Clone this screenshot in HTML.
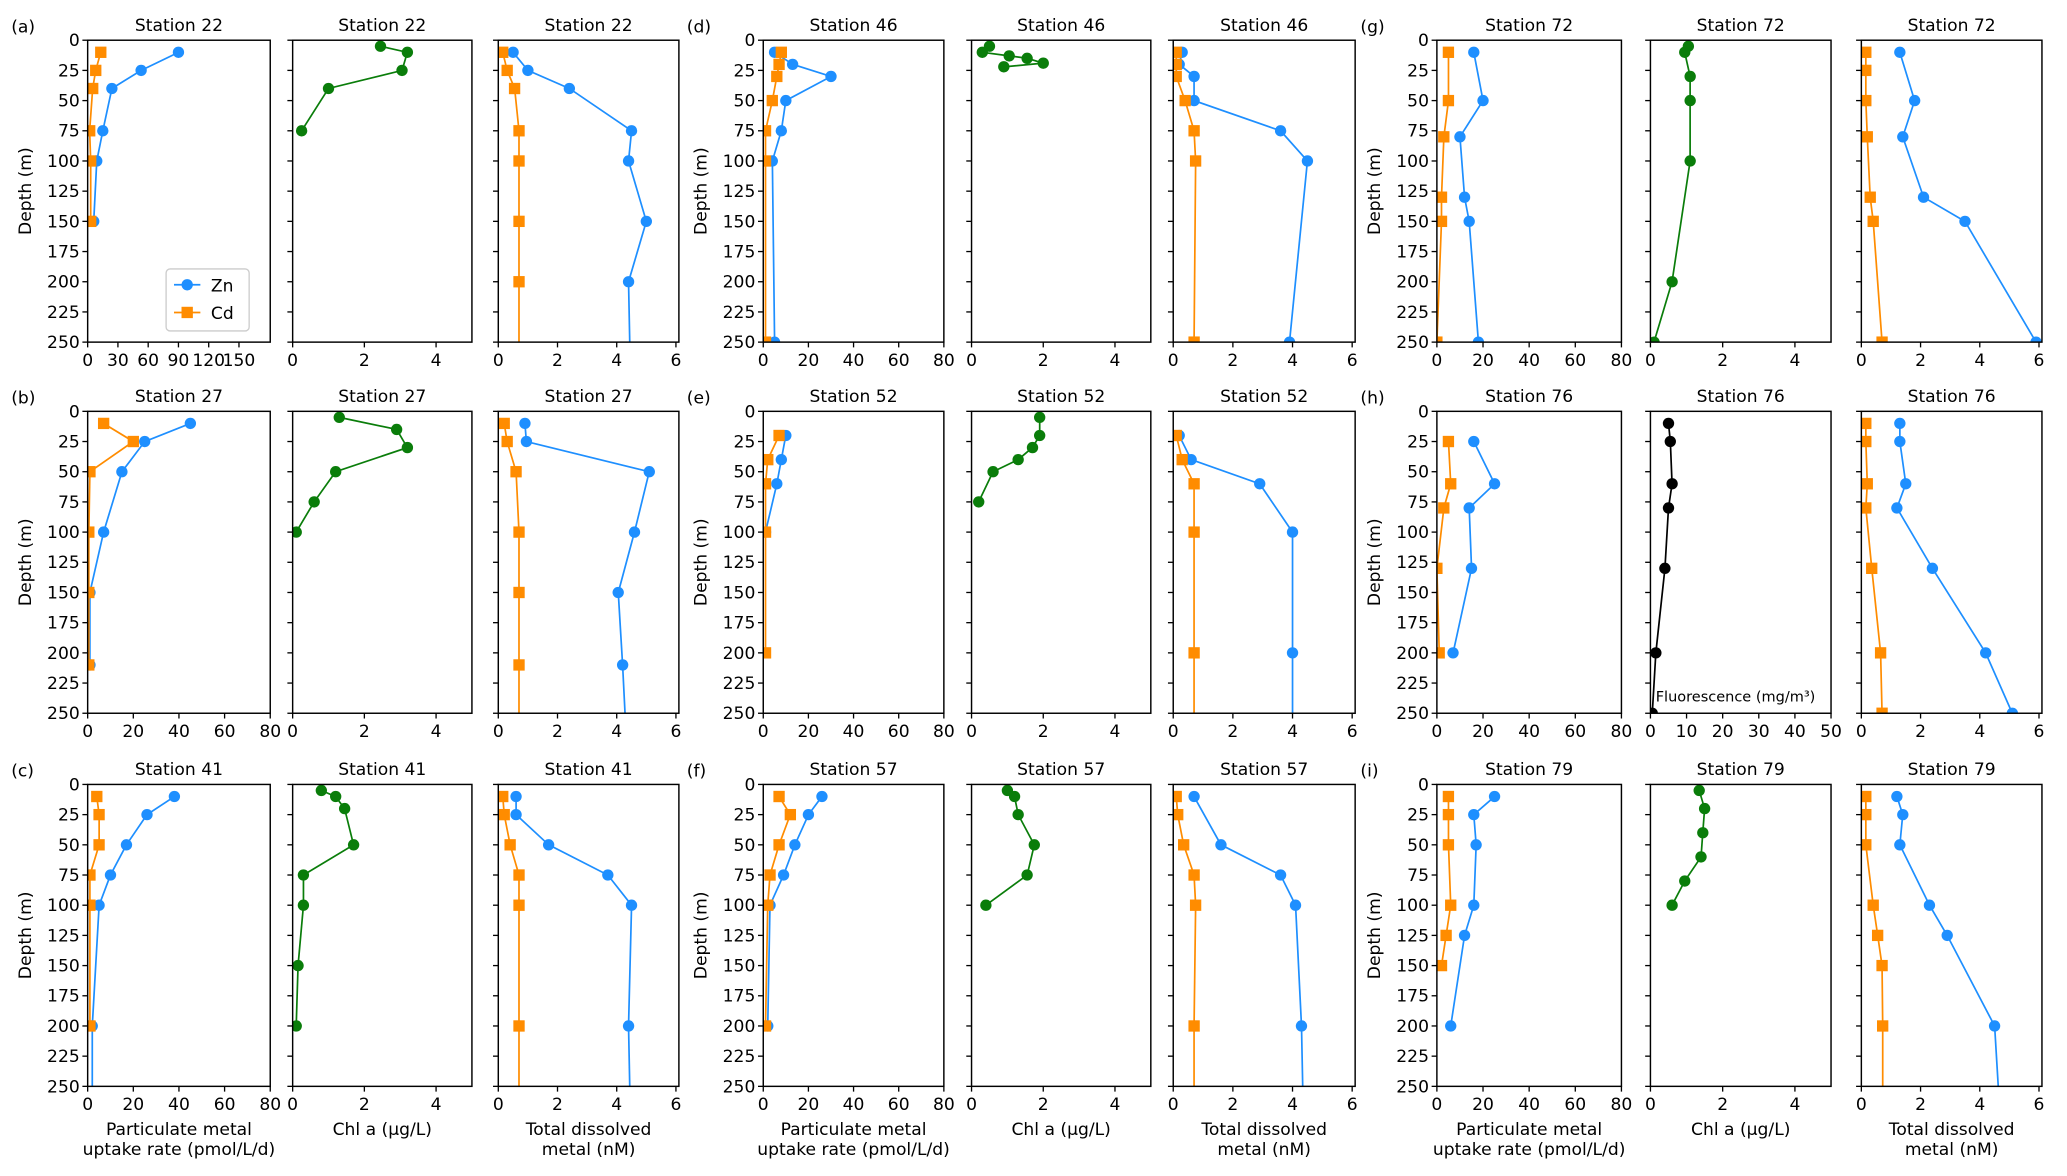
<!DOCTYPE html>
<html><head><meta charset="utf-8"><style>
html,body{margin:0;padding:0;background:#fff;}
svg{display:block;}
text{font-family:"DejaVu Sans","Liberation Sans",sans-serif;fill:#000;}
</style></head><body>
<svg id="fig" xmlns="http://www.w3.org/2000/svg" width="2067" height="1176" viewBox="0 0 1568 892" preserveAspectRatio="none"></svg>
<script>
// ---- data: [value, depth(m)] ----
const st22_upt_zn=[[90,10],[53,25],[24,40],[15,75],[9,100],[6,150]];
const st22_upt_cd=[[13,10],[8,25],[5,40],[2,75],[3,100],[3,150]];
const st22_chl=[[2.45,5],[3.2,10],[3.05,25],[1.0,40],[0.25,75]];
const st22_dis_zn=[[0.5,10],[1.0,25],[2.4,40],[4.5,75],[4.4,100],[5.0,150],[4.4,200],[4.45,260]];
const st22_dis_cd=[[0.15,10],[0.3,25],[0.55,40],[0.7,75],[0.7,100],[0.7,150],[0.7,200],[0.7,260]];
const st27_upt_zn=[[45,10],[25,25],[15,50],[7,100],[1,150],[1,210]];
const st27_upt_cd=[[7,10],[20,25],[1,50],[0.5,100],[0.5,150],[0.5,210]];
const st27_chl=[[1.3,5],[2.9,15],[3.2,30],[1.2,50],[0.6,75],[0.1,100]];
const st27_dis_zn=[[0.9,10],[0.95,25],[5.1,50],[4.6,100],[4.05,150],[4.2,210],[4.3,260]];
const st27_dis_cd=[[0.2,10],[0.3,25],[0.6,50],[0.7,100],[0.7,150],[0.7,210],[0.7,260]];
const st41_upt_zn=[[38,10],[26,25],[17,50],[10,75],[5,100],[2,200],[2,260]];
const st41_upt_cd=[[4,10],[5,25],[5,50],[1,75],[1,100],[1,200]];
const st41_chl=[[0.8,5],[1.2,10],[1.45,20],[1.7,50],[0.3,75],[0.3,100],[0.15,150],[0.1,200]];
const st41_dis_zn=[[0.6,10],[0.6,25],[1.7,50],[3.7,75],[4.5,100],[4.4,200],[4.45,260]];
const st41_dis_cd=[[0.15,10],[0.2,25],[0.4,50],[0.7,75],[0.7,100],[0.7,200],[0.7,260]];
const st46_upt_zn=[[5,10],[13,20],[30,30],[10,50],[8,75],[4,100],[5,250]];
const st46_upt_cd=[[8,10],[7,20],[6,30],[4,50],[1,75],[1,100],[1,250]];
const st46_chl=[[0.5,5],[0.3,10],[1.05,13],[1.55,15],[2.0,19],[0.9,22]];
const st46_dis_zn=[[0.3,10],[0.2,20],[0.7,30],[0.7,50],[3.6,75],[4.5,100],[3.9,250]];
const st46_dis_cd=[[0.1,10],[0.1,20],[0.1,30],[0.4,50],[0.7,75],[0.75,100],[0.7,250]];
const st52_upt_zn=[[10,20],[8,40],[6,60],[1,100]];
const st52_upt_cd=[[7,20],[2,40],[1,60],[1,100],[1,200]];
const st52_chl=[[1.9,5],[1.9,20],[1.7,30],[1.3,40],[0.6,50],[0.2,75]];
const st52_dis_zn=[[0.2,20],[0.6,40],[2.9,60],[4.0,100],[4.0,200],[4.0,260]];
const st52_dis_cd=[[0.1,20],[0.3,40],[0.7,60],[0.7,100],[0.7,200],[0.7,260]];
const st57_upt_zn=[[26,10],[20,25],[14,50],[9,75],[3,100],[2,200]];
const st57_upt_cd=[[7,10],[12,25],[7,50],[3,75],[2,100],[1,200]];
const st57_chl=[[1.0,5],[1.2,10],[1.3,25],[1.75,50],[1.55,75],[0.4,100]];
const st57_dis_zn=[[0.7,10],[1.6,50],[3.6,75],[4.1,100],[4.3,200],[4.35,260]];
const st57_dis_cd=[[0.1,10],[0.15,25],[0.35,50],[0.7,75],[0.75,100],[0.7,200],[0.7,260]];
const st72_upt_zn=[[16,10],[20,50],[10,80],[12,130],[14,150],[18,250]];
const st72_upt_cd=[[5,10],[5,50],[3,80],[2,130],[2,150],[0,250]];
const st72_chl=[[1.05,5],[0.95,10],[1.1,30],[1.1,50],[1.1,100],[0.6,200],[0.1,250]];
const st72_dis_zn=[[1.3,10],[1.8,50],[1.4,80],[2.1,130],[3.5,150],[5.9,250]];
const st72_dis_cd=[[0.15,10],[0.15,25],[0.15,50],[0.2,80],[0.3,130],[0.4,150],[0.7,250]];
const st76_upt_zn=[[16,25],[25,60],[14,80],[15,130],[7,200]];
const st76_upt_cd=[[5,25],[6,60],[3,80],[0,130],[1,200]];
const st76_fluor=[[5,10],[5.5,25],[6,60],[5,80],[4,130],[1.5,200],[0.5,250]];
const st76_dis_zn=[[1.3,10],[1.3,25],[1.5,60],[1.2,80],[2.4,130],[4.2,200],[5.1,250]];
const st76_dis_cd=[[0.15,10],[0.15,25],[0.2,60],[0.15,80],[0.35,130],[0.65,200],[0.7,250]];
const st79_upt_zn=[[25,10],[16,25],[17,50],[16,100],[12,125],[6,200]];
const st79_upt_cd=[[5,10],[5,25],[5,50],[6,100],[4,125],[2,150]];
const st79_chl=[[1.35,5],[1.5,20],[1.45,40],[1.4,60],[0.95,80],[0.6,100]];
const st79_dis_zn=[[1.2,10],[1.4,25],[1.3,50],[2.3,100],[2.9,125],[4.5,200],[4.65,260]];
const st79_dis_cd=[[0.15,10],[0.15,25],[0.15,50],[0.4,100],[0.55,125],[0.7,150],[0.72,200],[0.72,260]];
const depthTicks=[0,25,50,75,100,125,150,175,200,225,250];
const uptTicks=[0,20,40,60,80];
const upt22Ticks=[0,30,60,90,120,150];
const chlTicks=[0,2,4];
const disTicks=[0,2,4,6];
const fluorTicks=[0,10,20,30,40,50];
const stations=["22","27","41","46","52","57","72","76","79"];
const panelLetters=["(a)","(b)","(c)","(d)","(e)","(f)","(g)","(h)","(i)"];
const DATA={st22_upt_zn,st22_upt_cd,st22_chl,st22_dis_zn,st22_dis_cd,
 st27_upt_zn,st27_upt_cd,st27_chl,st27_dis_zn,st27_dis_cd,
 st41_upt_zn,st41_upt_cd,st41_chl,st41_dis_zn,st41_dis_cd,
 st46_upt_zn,st46_upt_cd,st46_chl,st46_dis_zn,st46_dis_cd,
 st52_upt_zn,st52_upt_cd,st52_chl,st52_dis_zn,st52_dis_cd,
 st57_upt_zn,st57_upt_cd,st57_chl,st57_dis_zn,st57_dis_cd,
 st72_upt_zn,st72_upt_cd,st72_chl,st72_dis_zn,st72_dis_cd,
 st76_upt_zn,st76_upt_cd,st76_fluor,st76_dis_zn,st76_dis_cd,
 st79_upt_zn,st79_upt_cd,st79_chl,st79_dis_zn,st79_dis_cd};

const NS="http://www.w3.org/2000/svg";
const svg=document.getElementById('fig');
const ZN="#1e8fff",CD="#ff8c00",GR="#0a7d0a";
function mk(tag,attrs,parent){const e=document.createElementNS(NS,tag);for(const k in attrs)e.setAttribute(k,attrs[k]);(parent||svg).appendChild(e);return e;}
function txt(x,y,s,size,anchor,parent){const t=mk('text',{x:x,y:y,'font-size':size,'text-anchor':anchor||'middle'},parent);t.textContent=s;return t;}

const groupX=[[[66.5,205],[222,358],[378,515]],[[579,716],[737,873],[890,1028]],[[1090,1230],[1252,1389],[1412,1549]]];
const rowY=[30.5,312,595];const H=229;
let clipId=0;
function panel(g,r,k,xmax,ticks,series,title,showY){
  const [x0,x1]=groupX[g][k];const y0=rowY[r];const W=x1-x0;
  const grp=mk('g',{});
  
  
  const sx=v=>x0+v/xmax*W, sy=d=>y0+d/250*H;
  const cid='c'+(clipId++);
  const cp=mk('clipPath',{id:cid},grp);mk('rect',{x:x0,y:y0,width:W,height:H},cp);
  const t=txt((x0+x1)/2,y0-7,title,13,'middle',grp);
  
  
  const plot=mk('g',{'clip-path':'url(#'+cid+')'},grp);
  series.forEach(s=>{
    const pts=s.data.map(p=>sx(p[0]).toFixed(1)+','+sy(p[1]).toFixed(1)).join(' ');
    const l=mk('polyline',{points:pts,fill:'none',stroke:s.c,'stroke-width':1.3},plot);
    
    
    s.data.forEach(p=>{
      let m;
      if(s.sq) m=mk('rect',{x:sx(p[0])-4.3,y:sy(p[1])-4.3,width:8.6,height:8.6,fill:s.c},plot);
      else m=mk('circle',{cx:sx(p[0]),cy:sy(p[1]),r:4.3,fill:s.c},plot);
      
      
    });
  });
  mk('rect',{x:x0,y:y0,width:W,height:H,fill:'none',stroke:'#000','stroke-width':1.1},grp);
  depthTicks.forEach(d=>{
    mk('line',{x1:x0-4,x2:x0,y1:sy(d),y2:sy(d),stroke:'#000','stroke-width':1},grp);
    if(showY) txt(x0-6,sy(d)+4.5,String(d),13,'end',grp);
  });
  ticks.forEach(v=>{
    mk('line',{x1:sx(v),x2:sx(v),y1:y0+H,y2:y0+H+4,stroke:'#000','stroke-width':1},grp);
    txt(sx(v),y0+H+18,String(v),13,'middle',grp);
  });
}
for(let g=0;g<3;g++){
  for(let r=0;r<3;r++){
    const i=g*3+r;const st=stations[i];const T='Station '+st;
    panel(g,r,0,st==="22"?181:80,st==="22"?upt22Ticks:uptTicks,[{data:DATA['st'+st+'_upt_zn'],c:ZN,n:'zn-uptake'},{data:DATA['st'+st+'_upt_cd'],c:CD,sq:true,n:'cd-uptake'}],T,true);
    if(st==="76") panel(g,r,1,50,fluorTicks,[{data:DATA.st76_fluor,c:'#000',n:'fluorescence'}],T,false);
    else panel(g,r,1,5,chlTicks,[{data:DATA['st'+st+'_chl'],c:GR,n:'chl-a'}],T,false);
    panel(g,r,2,6.1,disTicks,[{data:DATA['st'+st+'_dis_zn'],c:ZN,n:'zn-dissolved'},{data:DATA['st'+st+'_dis_cd'],c:CD,sq:true,n:'cd-dissolved'}],T,false);
    const lt=txt(groupX[g][0][0]-58,rowY[r]-6,panelLetters[i],13,'start');
    
    
    const yl=txt(0,0,'Depth (m)',13,'middle');
    yl.setAttribute('transform','translate('+(groupX[g][0][0]-43)+','+(rowY[r]+H/2)+') rotate(-90)');
    
    
  }
  const by=rowY[2]+H+37;
  const a=groupX[g];
  [[(a[0][0]+a[0][1])/2,['Particulate metal','uptake rate (pmol/L/d)']],[(a[1][0]+a[1][1])/2,['Chl a (\u00b5g/L)']],[(a[2][0]+a[2][1])/2,['Total dissolved','metal (nM)']]].forEach(([cx,lines])=>{
    lines.forEach((s,j)=>{
      const t=txt(cx,by+j*15,s,13,'middle');
      
      
    });
  });
}
const fa=txt(1256,532,'Fluorescence (mg/m\u00b3)',11,'start');


const lg=mk('g',{});


mk('rect',{x:126,y:204,width:63,height:47,rx:3,fill:'#fff',stroke:'#ccc','stroke-width':1},lg);
mk('line',{x1:132,x2:152,y1:216,y2:216,stroke:ZN,'stroke-width':1.3},lg);
mk('circle',{cx:142,cy:216,r:4.3,fill:ZN},lg);
txt(160,221,'Zn',13,'start',lg);
mk('line',{x1:132,x2:152,y1:237,y2:237,stroke:CD,'stroke-width':1.3},lg);
mk('rect',{x:137.7,y:232.7,width:8.6,height:8.6,fill:CD},lg);
txt(160,242,'Cd',13,'start',lg);
</script>
</body></html>
